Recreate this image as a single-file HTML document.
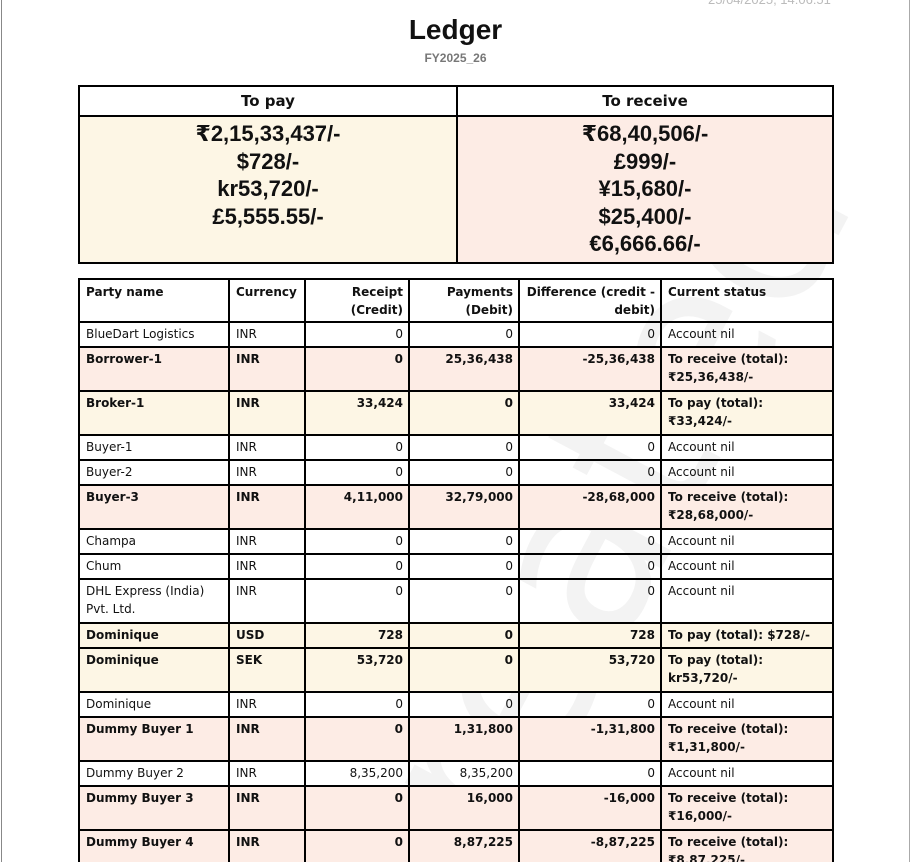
<!DOCTYPE html>
<html><head><meta charset="utf-8"><style>
*{margin:0;padding:0;box-sizing:border-box}
html,body{width:911px;height:862px;overflow:hidden}
body{background:#fff;font-family:"Liberation Sans","DejaVu Sans",sans-serif;color:#111;position:relative}
.pg{position:absolute;left:1px;top:0;width:909px;height:862px;border-left:1px solid #888;border-right:1px solid #aaa}
.wm{position:absolute;left:120px;top:430px;font-size:230px;color:#f3f3f3;transform:rotate(-62deg);transform-origin:center;white-space:nowrap;font-family:"DejaVu Sans",sans-serif}
h1{position:absolute;top:14px;left:0;width:911px;text-align:center;font-size:28px;font-weight:bold}
.fy{position:absolute;top:51px;left:0;width:911px;text-align:center;font-size:12px;font-weight:bold;color:#777}
.date{position:absolute;top:-8px;left:708px;font-size:13px;color:#bbb}
.sum{position:absolute;left:78px;top:85px;width:756px;border-collapse:collapse;table-layout:fixed}
.sum td{border:2px solid #000;text-align:center;font-weight:bold}
.sum .h td{height:30px;font-size:16px;font-family:"DejaVu Sans",sans-serif;font-size:15px}
.sum .v td{height:147px;font-size:22px;line-height:27.5px;vertical-align:top;padding-top:3px}
.t{position:absolute;left:78px;top:278px;width:756px;border-collapse:collapse;table-layout:fixed;font-size:12px;line-height:18px;font-family:"DejaVu Sans",sans-serif}
.t td{border:2px solid #000;vertical-align:top;padding:2px 5px 0 6px;overflow:hidden}
.t td.r{text-align:right}
.t tr{height:25px}
.t tr.d{height:44px}
.t .hd td{font-weight:bold;height:43px;padding-top:3px}
.p{background:#fdece5;font-weight:bold}
.c{background:#fdf6e5;font-weight:bold}
</style></head><body>
<div class="pg"></div>
<div class="wm">Created</div>
<div class="date">25/04/2025, 14:06:51</div>
<h1>Ledger</h1>
<div class="fy">FY2025_26</div>
<table class="sum"><col style="width:378px"><col>
<tr class="h"><td>To pay</td><td>To receive</td></tr>
<tr class="v"><td style="background:#fdf6e5">₹2,15,33,437/-<br>$728/-<br>kr53,720/-<br>£5,555.55/-</td><td style="background:#fdece5">₹68,40,506/-<br>£999/-<br>¥15,680/-<br>$25,400/-<br>€6,666.66/-</td></tr>
</table>
<table class="t">
<col style="width:150px"><col style="width:76px"><col style="width:104px"><col style="width:110px"><col style="width:142px"><col>
<tr class="hd"><td>Party name</td><td>Currency</td><td class="r">Receipt (Credit)</td><td class="r">Payments (Debit)</td><td class="r">Difference (credit - debit)</td><td>Current status</td></tr>
<tr><td>BlueDart Logistics</td><td>INR</td><td class="r">0</td><td class="r">0</td><td class="r">0</td><td>Account nil</td></tr>
<tr class="d p"><td>Borrower-1</td><td>INR</td><td class="r">0</td><td class="r">25,36,438</td><td class="r">-25,36,438</td><td>To receive (total): ₹25,36,438/-</td></tr>
<tr class="d c"><td>Broker-1</td><td>INR</td><td class="r">33,424</td><td class="r">0</td><td class="r">33,424</td><td>To pay (total):<br>₹33,424/-</td></tr>
<tr><td>Buyer-1</td><td>INR</td><td class="r">0</td><td class="r">0</td><td class="r">0</td><td>Account nil</td></tr>
<tr><td>Buyer-2</td><td>INR</td><td class="r">0</td><td class="r">0</td><td class="r">0</td><td>Account nil</td></tr>
<tr class="d p"><td>Buyer-3</td><td>INR</td><td class="r">4,11,000</td><td class="r">32,79,000</td><td class="r">-28,68,000</td><td>To receive (total): ₹28,68,000/-</td></tr>
<tr><td>Champa</td><td>INR</td><td class="r">0</td><td class="r">0</td><td class="r">0</td><td>Account nil</td></tr>
<tr><td>Chum</td><td>INR</td><td class="r">0</td><td class="r">0</td><td class="r">0</td><td>Account nil</td></tr>
<tr class="d"><td>DHL Express (India) Pvt. Ltd.</td><td>INR</td><td class="r">0</td><td class="r">0</td><td class="r">0</td><td>Account nil</td></tr>
<tr class="c"><td>Dominique</td><td>USD</td><td class="r">728</td><td class="r">0</td><td class="r">728</td><td>To pay (total): $728/-</td></tr>
<tr class="d c"><td>Dominique</td><td>SEK</td><td class="r">53,720</td><td class="r">0</td><td class="r">53,720</td><td>To pay (total):<br>kr53,720/-</td></tr>
<tr><td>Dominique</td><td>INR</td><td class="r">0</td><td class="r">0</td><td class="r">0</td><td>Account nil</td></tr>
<tr class="d p"><td>Dummy Buyer 1</td><td>INR</td><td class="r">0</td><td class="r">1,31,800</td><td class="r">-1,31,800</td><td>To receive (total): ₹1,31,800/-</td></tr>
<tr><td>Dummy Buyer 2</td><td>INR</td><td class="r">8,35,200</td><td class="r">8,35,200</td><td class="r">0</td><td>Account nil</td></tr>
<tr class="d p"><td>Dummy Buyer 3</td><td>INR</td><td class="r">0</td><td class="r">16,000</td><td class="r">-16,000</td><td>To receive (total): ₹16,000/-</td></tr>
<tr class="d p"><td>Dummy Buyer 4</td><td>INR</td><td class="r">0</td><td class="r">8,87,225</td><td class="r">-8,87,225</td><td>To receive (total): ₹8,87,225/-</td></tr>
</table>
</body></html>
